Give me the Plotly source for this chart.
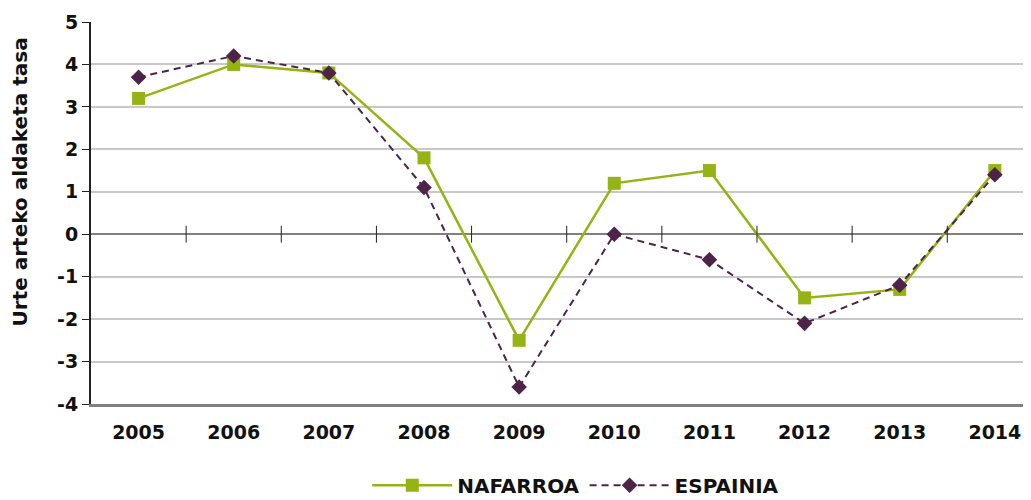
import plotly.graph_objects as go

years = ["2005", "2006", "2007", "2008", "2009", "2010", "2011", "2012", "2013", "2014"]
nafarroa = [3.2, 4.0, 3.8, 1.8, -2.5, 1.2, 1.5, -1.5, -1.3, 1.5]
espainia = [3.7, 4.2, 3.8, 1.1, -3.6, 0.0, -0.6, -2.1, -1.2, 1.4]
y_ticks = [-4, -3, -2, -1, 0, 1, 2, 3, 4, 5]
y_labels = ["-4", "-3", "-2", "-1", "0", "1", "2", "3", "4", "5"]

GREEN = "#95b315"
PURPLE = "#4e2349"
FONT = "DejaVu Sans"

fig = go.Figure()
fig.add_trace(go.Scatter(
    x=years, y=nafarroa, name="NAFARROA", mode="lines+markers",
    line=dict(color=GREEN, width=2.5),
    marker=dict(symbol="square", size=13, color=GREEN)))
fig.add_trace(go.Scatter(
    x=years, y=espainia, name="ESPAINIA", mode="lines+markers",
    line=dict(color=PURPLE, width=2, dash="7px,5px"),
    marker=dict(symbol="diamond", size=12, color=PURPLE)))

# small tick marks between categories on the zero line
for i in range(len(years) - 1):
    fig.add_shape(type="line", xref="x", yref="y", x0=i + 0.5, x1=i + 0.5,
                  y0=-0.2, y1=0.2, line=dict(color="#222222", width=1), layer="above")

# y title sits a bit above the plot centre in the original
fig.add_annotation(text="Urte arteko aldaketa tasa", textangle=-90,
                   xref="paper", yref="paper", x=-0.0755, y=0.58,
                   xanchor="center", yanchor="middle", showarrow=False,
                   font=dict(size=20, weight="bold"))

# page body has an 8px margin, so the figure is sized to fit the window
fig.update_layout(
    width=1023, height=492,
    margin=dict(l=83, r=0, t=14, b=96),
    plot_bgcolor="white", paper_bgcolor="white",
    font=dict(family=FONT, size=19, color="#111111", weight="bold"),
    showlegend=True,
    legend=dict(orientation="h", x=0.555, xanchor="center", xref="container",
                y=0.03, yanchor="middle", yref="container",
                font=dict(size=20, weight="bold"), itemwidth=80),
    xaxis=dict(type="category", range=[-0.5, 9.38], showgrid=False, automargin=False,
               showline=True, linecolor="#808080", linewidth=3,
               ticks="outside", ticklen=9, tickcolor="rgba(0,0,0,0)",
               tickfont=dict(size=19, weight="bold")),
    yaxis=dict(range=[-4, 5], tickvals=y_ticks, ticktext=y_labels, automargin=False,
               showgrid=True, gridcolor="#c8c8c8", gridwidth=2,
               zeroline=True, zerolinecolor="#808080", zerolinewidth=2,
               showline=True, linecolor="#222222", linewidth=2,
               ticks="outside", ticklen=7, tickcolor="#222222",
               tickfont=dict(size=19, weight="bold")),
)

fig.write_html("out.html")
